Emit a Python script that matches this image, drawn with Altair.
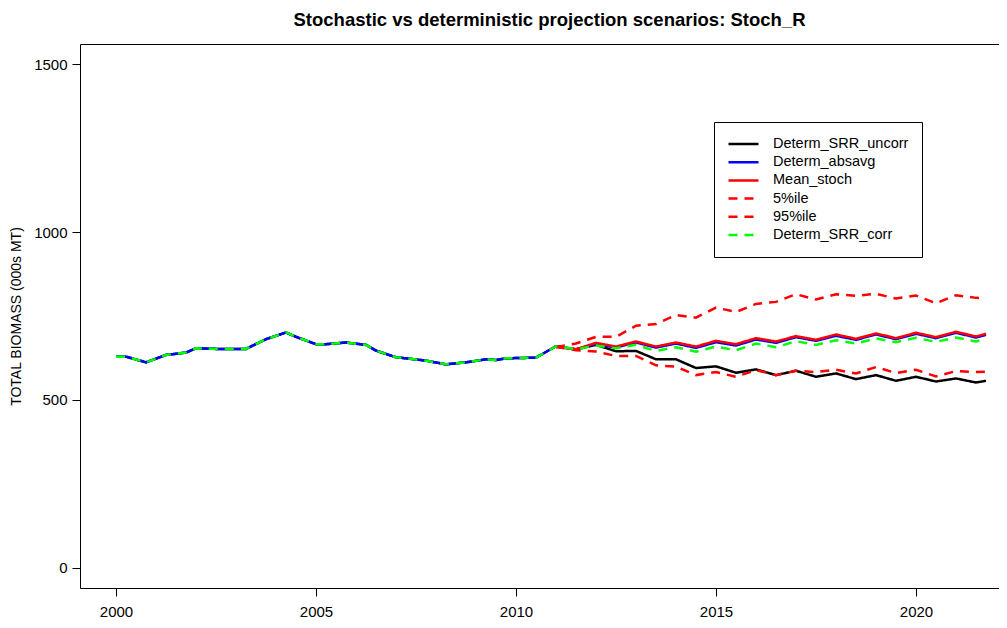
import altair as alt
import pandas as pd

# Historical part (shared by the deterministic runs)
hist_years = [2000.0, 2000.25, 2000.75, 2001.25, 2001.75, 2002.0, 2002.5, 2002.75,
              2003.25, 2003.75, 2004.25, 2004.5, 2005.0, 2005.25, 2005.75, 2006.25,
              2006.5, 2007.0, 2007.25, 2007.75, 2008.25, 2008.75, 2009.25, 2009.5,
              2009.75, 2010.5]
hist_biomass = [629, 629, 612, 634, 641, 654, 652, 652, 652, 681, 701, 688, 666, 666,
                671, 664, 647, 627, 624, 617, 606, 612, 621, 619, 624, 626]

# Projection years
proj_years = [2011.0, 2011.5, 2012.0, 2012.5, 2013.0, 2013.5, 2014.0, 2014.5, 2015.0,
              2015.5, 2016.0, 2016.5, 2017.0, 2017.5, 2018.0, 2018.5, 2019.0, 2019.5,
              2020.0, 2020.5, 2021.0, 2021.5, 2021.75]

determ_srr_uncorr = [660, 651, 664, 645, 646, 621, 621, 595, 600, 581, 591, 574, 587,
                     569, 579, 562, 574, 557, 569, 555, 564, 552, 557]
determ_absavg = [660, 650, 667, 656, 671, 656, 668, 655, 672, 662, 680, 670, 687, 676,
                 691, 679, 695, 681, 697, 684, 700, 686, 694]
mean_stoch = [658, 651, 670, 659, 674, 659, 671, 659, 676, 666, 684, 674, 690, 679, 695,
              682, 698, 684, 700, 687, 703, 689, 697]
pct05 = [658, 648, 644, 631, 631, 603, 599, 574, 583, 569, 589, 574, 587, 583, 590, 579,
         598, 580, 590, 570, 586, 583, 584]
pct95 = [658, 668, 688, 688, 721, 726, 753, 745, 775, 762, 786, 792, 815, 799, 815, 810,
         816, 802, 811, 788, 812, 804, 803]
determ_srr_corr = [660, 651, 662, 654, 664, 646, 657, 644, 659, 648, 668, 657, 675, 664,
                   678, 668, 683, 672, 685, 673, 686, 674, 683]

series_names = ["Determ_SRR_uncorr", "Determ_absavg", "Mean_stoch", "5%ile", "95%ile",
                "Determ_SRR_corr"]
series_colors = ["#000000", "#0000FF", "#FF0000", "#FF0000", "#FF0000", "#00FF00"]
series_dashes = [[1, 0], [1, 0], [1, 0], [9, 7], [9, 7], [9, 7]]

rows = []
def add(name, years, vals):
    for yr, v in zip(years, vals):
        rows.append({"series": name, "year": yr, "biomass": v})

add("Determ_SRR_uncorr", hist_years + proj_years, hist_biomass + determ_srr_uncorr)
add("Determ_absavg", hist_years + proj_years, hist_biomass + determ_absavg)
add("Mean_stoch", proj_years, mean_stoch)
add("5%ile", proj_years, pct05)
add("95%ile", proj_years, pct95)
add("Determ_SRR_corr", hist_years + proj_years, hist_biomass + determ_srr_corr)
df = pd.DataFrame(rows)

FONT = "Liberation Sans"
xscale = alt.Scale(domain=[1999.1, 2022.075], nice=False, zero=False)
yscale = alt.Scale(domain=[-60, 1560], nice=False, zero=False)
color_scale = alt.Scale(domain=series_names, range=series_colors)
dash_scale = alt.Scale(domain=series_names, range=series_dashes)

legend = alt.Legend(title=None, orient="none", legendX=634, legendY=78,
                    strokeColor="black", fillColor="white", padding=13,
                    symbolType="stroke", symbolSize=900, symbolStrokeWidth=2.5,
                    labelFontSize=14.5, labelFont=FONT, labelColor="black",
                    labelAlign="left", labelOffset=13, clipHeight=18, rowPadding=0.2,
                    cornerRadius=0)

x_axis = alt.Axis(values=[2000, 2005, 2010, 2015, 2020], format="d", tickSize=8,
                  labelPadding=8, title=None, grid=False, domain=True,
                  domainColor="black", tickColor="black", labelFontSize=15,
                  labelFont=FONT, labelColor="black")
y_axis = alt.Axis(values=[0, 500, 1000, 1500], format="d", tickSize=8, labelPadding=5,
                  title="TOTAL BIOMASS (000s MT)", titleFontWeight="normal",
                  titleFontSize=14, titleFont=FONT, titleColor="black",
                  titlePadding=10, grid=False, domain=True, domainColor="black",
                  tickColor="black", labelFontSize=15, labelFont=FONT,
                  labelColor="black")

layers = []
for i, name in enumerate(series_names):
    layers.append(
        alt.Chart(df)
        .transform_filter(alt.datum.series == name)
        .mark_line(strokeWidth=2.5)
        .encode(
            x=alt.X("year:Q", scale=xscale, axis=x_axis if i == 0 else None),
            y=alt.Y("biomass:Q", scale=yscale, axis=y_axis),
            color=alt.Color("series:N", scale=color_scale, legend=legend),
            strokeDash=alt.StrokeDash("series:N", scale=dash_scale, legend=legend),
        )
    )

top_frame = (
    alt.Chart(pd.DataFrame({"year": [2000.0]}))
    .mark_point(opacity=0)
    .encode(
        x=alt.X("year:Q", scale=xscale,
                axis=alt.Axis(orient="top", labels=False, ticks=False, title=None,
                              grid=False, domain=True, domainColor="black")),
    )
)

chart = (
    alt.layer(*layers, top_frame)
    .resolve_axis(x="independent")
    .properties(
        width=919,
        height=544,
        autosize=alt.AutoSizeParams(type="none"),
        padding={"left": 72, "top": 36, "right": 0, "bottom": 30},
        title=alt.TitleParams(
            "Stochastic vs deterministic projection scenarios: Stoch_R",
            fontSize=18.5, fontWeight="bold", font=FONT, color="black",
            anchor="middle", offset=15, dx=10),
    )
    .configure_view(stroke=None)
    .configure(background="white")
)

chart.save("out.html", embed_options={"renderer": "svg", "actions": False})
